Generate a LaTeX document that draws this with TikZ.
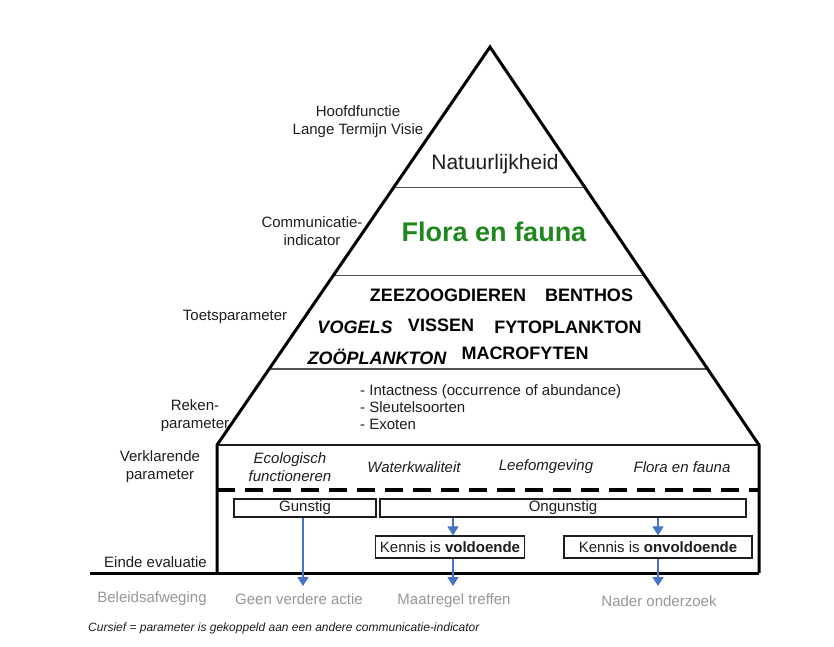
\documentclass[tikz,border=0pt]{standalone}
\usepackage{fontspec}
\setmainfont{Liberation Sans}
\usetikzlibrary{arrows.meta,calc}
\definecolor{fgreen}{RGB}{30,135,30}
\definecolor{arrblue}{RGB}{70,115,195}
\definecolor{outgray}{RGB}{150,150,150}
\definecolor{linegray}{RGB}{80,80,80}
\definecolor{txt}{RGB}{30,30,30}
\begin{document}
\begin{tikzpicture}[x=1pt,y=-1pt,
  lbl/.style={font=\fontsize{15}{18}\selectfont, align=center, inner sep=0pt, text=txt},
  par/.style={font=\fontsize{15}{18}\selectfont\itshape, align=center, inner sep=0pt, text=txt},
  toets/.style={font=\fontsize{18}{20}\selectfont\bfseries, inner sep=0pt, text=black},
  toetsi/.style={font=\fontsize{18}{20}\selectfont\bfseries\itshape, inner sep=0pt, text=black},
  outtxt/.style={font=\fontsize{15}{18}\selectfont, inner sep=0pt, text=outgray},
  evbox/.style={draw=txt, line width=1.2pt, minimum height=18pt, inner sep=0pt,
     font=\fontsize{15}{18}\selectfont, text=txt},
  kbox/.style={evbox, minimum height=22pt},
  edge/.style={line width=3pt, line join=miter},
  layer/.style={line width=1.1pt, draw=linegray},
  arr/.style={draw=arrblue, line width=1.6pt, -{Triangle[width=11pt,length=9pt]}}
]
\useasboundingbox (0,0) rectangle (834,646);

% pyramid geometry
\coordinate (apex) at (490,47);
\coordinate (bl) at (217,445);
\coordinate (br) at (759,445);
\coordinate (fl) at (217,573);
\coordinate (fr) at (759,573);
\coordinate (gl) at (90,573);
\coordinate (dl) at (217,490);
\coordinate (dr) at (759,490);
\coordinate (outrow) at (0,586);

% layer separators
\draw[layer] ($(apex)!0.354!(bl)$) -- ($(apex)!0.354!(br)$);
\draw[layer] ($(apex)!0.573!(bl)$) -- ($(apex)!0.573!(br)$);
\draw[layer] ($(apex)!0.809!(bl)$) -- ($(apex)!0.809!(br)$);
\draw[layer, draw=txt] (bl) -- (br);

% outline
\draw[edge] (fl) -- (bl) -- (apex) -- (br) -- (fr);
\draw[line width=3pt] (gl) -- (fr);
\draw[line width=3.5pt, dash pattern=on 18pt off 10pt] (dl) -- (dr);

% left labels
\node[lbl] (hf) at (358,122) {Hoofdfunctie\\Lange Termijn Visie};
\node[lbl] (ci) at (312,231) {Communicatie-\\indicator};
\node[lbl] (tp) at (235,317) {Toetsparameter};
\node[lbl] (rp) at (195,416) {Reken-\\parameter};
\node[lbl] (vp) at (160,467) {Verklarende\\parameter};
\node[lbl, anchor=west] (ee) at (104,562) {Einde evaluatie};

% pyramid contents
\node[inner sep=0pt, font=\fontsize{21}{24}\selectfont, text=txt] (nat) at (495,164) {Natuurlijkheid};
\node[inner sep=0pt, font=\fontsize{27}{30}\selectfont\bfseries, text=fgreen] (ff) at (494,232) {Flora en fauna};

\node[toets] (zee) at (448,295) {ZEEZOOGDIEREN};
\node[toets] (ben) at (589,295) {BENTHOS};
\node[toetsi] (vog) at (355,327) {VOGELS};
\node[toets] (vis) at (441,325) {VISSEN};
\node[toets] (fyt) at (568,327) {FYTOPLANKTON};
\node[toetsi] (zoo) at (377,357) {ZOÖPLANKTON};
\node[toets] (mac) at (525,353) {MACROFYTEN};

\node[lbl, align=left, anchor=west, font=\fontsize{15}{17}\selectfont] (rek) at (360,407)
  {- Intactness (occurrence of abundance)\\- Sleutelsoorten\\- Exoten};

\node[par] (eco) at (290,467) {Ecologisch\\functioneren};
\node[par] (wat) at (414,467) {Waterkwaliteit};
\node[par] (lee) at (546,467) {Leefomgeving};
\node[par] (ffi) at (682,467) {Flora en fauna};

% evaluation boxes
\node[evbox, minimum width=142pt] (gun) at (305,508) {Gunstig};
\node[evbox, minimum width=366pt] (ong) at (563,508) {Ongunstig};
\node[kbox, minimum width=149pt] (kv) at (450,547) {Kennis is \textbf{voldoende}};
\node[kbox, minimum width=188pt] (ko) at (658,547) {Kennis is \textbf{onvoldoende}};

% outcomes
\node[outtxt] (bel) at (152,599) {Beleidsafweging};
\node[outtxt] (geen) at (299,599) {Geen verdere actie};
\node[outtxt] (maat) at (454,601) {Maatregel treffen};
\node[outtxt] (nad) at (659,601) {Nader onderzoek};

% arrows
\draw[arr] ([xshift=-2pt]gun.south) -- ([xshift=-2pt]gun.south |- outrow);
\draw[arr] ([xshift=3pt]kv.north |- ong.south) -- ([xshift=3pt]kv.north);
\draw[arr] (ko.north |- ong.south) -- (ko.north);
\draw[arr] ([xshift=3pt]kv.south) -- ([xshift=3pt]kv.south |- outrow);
\draw[arr] (ko.south) -- (ko.south |- outrow);

% footnote
\node[inner sep=0pt, anchor=west, font=\fontsize{12}{14}\selectfont\itshape, text=txt] (note) at (88,628)
  {Cursief = parameter is gekoppeld aan een andere communicatie-indicator};
\end{tikzpicture}
\end{document}
